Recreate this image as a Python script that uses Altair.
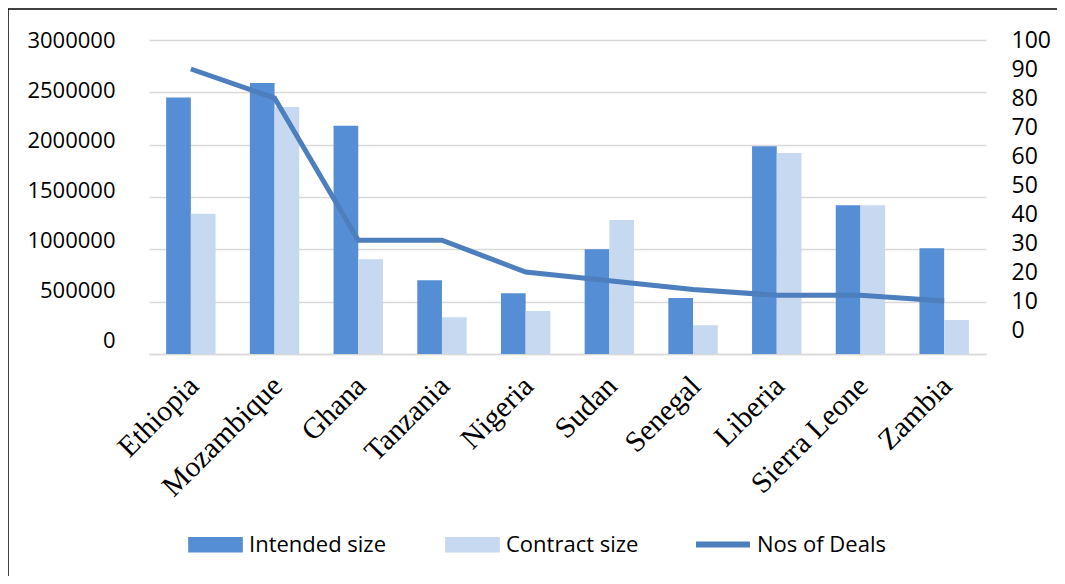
import altair as alt
import pandas as pd

# values
countries = ["Ethiopia", "Mozambique", "Ghana", "Tanzania", "Nigeria",
             "Sudan", "Senegal", "Liberia", "Sierra Leone", "Zambia"]
intended = [2450000, 2590000, 2180000, 705000, 580000,
            1000000, 535000, 1985000, 1420000, 1010000]
contract = [1340000, 2360000, 905000, 350000, 410000,
            1280000, 275000, 1920000, 1420000, 325000]
deals = [90, 80, 31, 31, 20, 17, 14, 12, 12, 10]

series = ["Intended size", "Contract size"]
bar_colors = ["#558ED5", "#C6D9F1"]
line_color = "#4D7EBD"
left_ticks = [0, 500000, 1000000, 1500000, 2000000, 2500000, 3000000]
right_ticks = [0, 10, 20, 30, 40, 50, 60, 70, 80, 90, 100]

bars_df = pd.DataFrame({
    "country": countries * 2,
    "series": [series[0]] * len(countries) + [series[1]] * len(countries),
    "size": intended + contract,
})
line_df = pd.DataFrame({"country": countries, "deals": deals, "label": "Nos of Deals"})

W, H = 837, 314
SANS = "Open Sans"
SERIF = "Liberation Serif"

x_enc = alt.X(
    "country:N", sort=countries, title=None,
    scale=alt.Scale(paddingInner=0.41, paddingOuter=0.205),
    axis=alt.Axis(labelAngle=-45, labelAlign="right", labelBaseline="middle",
                  labelFont=SERIF, labelFontSize=29.5, labelColor="#000",
                  labelPadding=27, labelOffset=3, ticks=False,
                  domainColor="#D9D9D9", domainWidth=1.5, grid=False),
)

bars = alt.Chart(bars_df).mark_bar().encode(
    x=x_enc,
    xOffset=alt.XOffset("series:N", sort=series, scale=alt.Scale(paddingInner=0)),
    y=alt.Y("size:Q", title=None,
            scale=alt.Scale(domain=[0, 3000000], nice=False),
            axis=alt.Axis(values=left_ticks, labels=False, ticks=False, domain=False,
                          grid=True, gridColor="#D9D9D9", gridWidth=1.5)),
    color=alt.Color("series:N", sort=series, title=None,
                    scale=alt.Scale(domain=series, range=bar_colors),
                    legend=alt.Legend(orient="none", legendX=39, legendY=477,
                                      direction="horizontal",
                                      symbolType="M-1,-0.28H1V0.28H-1Z",
                                      symbolSize=2990, symbolStrokeWidth=0,
                                      labelFont=SANS, labelFontSize=22, labelColor="#000",
                                      labelOffset=6, columnPadding=58, labelLimit=300)),
)

# left tick labels sit on a slightly tighter spacing than the gridlines
left_labels = alt.Chart(bars_df).mark_point(opacity=0).encode(
    x=alt.X("country:N", sort=countries),
    y=alt.Y("size:Q", title=None,
            scale=alt.Scale(domain=[-140000, 3000000], nice=False, zero=False),
            axis=alt.Axis(orient="left", values=left_ticks, format="d", grid=False,
                          ticks=False, domain=False, labelFont=SANS, labelFontSize=22,
                          labelColor="#000", labelPadding=34)),
)

line = alt.Chart(line_df).mark_line(strokeWidth=5).encode(
    x=alt.X("country:N", sort=countries),
    y=alt.Y("deals:Q", title=None,
            scale=alt.Scale(domain=[-8.25, 100], nice=False, zero=False),
            axis=alt.Axis(orient="right", values=right_ticks, grid=False, ticks=False,
                          domain=False, labelFont=SANS, labelFontSize=23,
                          labelColor="#000", labelPadding=25)),
    color=alt.Color("label:N", title=None,
                    scale=alt.Scale(domain=["Nos of Deals"], range=[line_color]),
                    legend=alt.Legend(orient="none", legendX=544, legendY=474.5,
                                      symbolType="stroke", symbolSize=2916,
                                      symbolStrokeWidth=6,
                                      labelFont=SANS, labelFontSize=22, labelColor="#000",
                                      labelOffset=4, labelLimit=300)),
)

# thin black frame on the left and top edges
frame_df = pd.DataFrame({"k": [0]})
frame_left = alt.Chart(frame_df).mark_rule(color="#000", strokeWidth=1.5).encode(
    x=alt.value(-141), y=alt.value(-31), y2=alt.value(545))
frame_top = alt.Chart(frame_df).mark_rule(color="#000", strokeWidth=1.5).encode(
    x=alt.value(-141), x2=alt.value(925), y=alt.value(-31))

chart = (
    alt.layer(bars, line, left_labels, frame_left, frame_top)
    .resolve_scale(y="independent", color="independent")
    .properties(width=W, height=H,
                autosize=alt.AutoSizeParams(type="none"),
                padding={"left": 141, "top": 32, "right": 71, "bottom": 222},
                background="white")
    .configure_view(stroke=None)
)

chart.save("out.html", embed_options={"renderer": "svg", "actions": False})
